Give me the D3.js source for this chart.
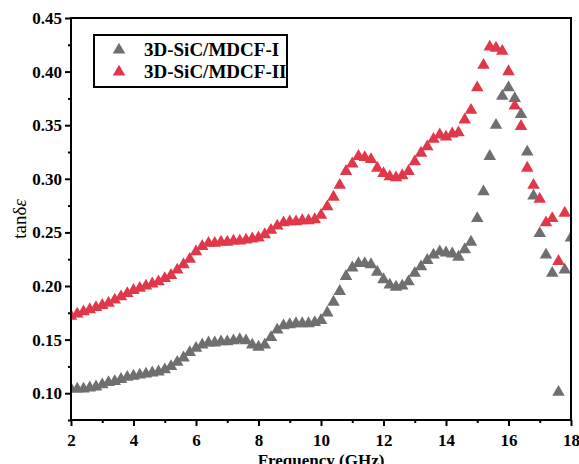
<!DOCTYPE html>
<html>
<head>
<meta charset="utf-8">
<script src="https://cdn.jsdelivr.net/npm/d3@7"></script>
<style>
  body { margin: 0; background: #fff; }
  svg { display: block; }
  text { font-family: "Liberation Serif", "Times New Roman", serif; }
</style>
</head>
<body>
<svg id="canvas" width="579" height="464"></svg>
<script>
// frequency points (GHz)
let freq = [2.0, 2.2, 2.4, 2.6, 2.8, 3.0, 3.2, 3.4, 3.6, 3.8,
  4.0, 4.2, 4.4, 4.6, 4.8, 5.0, 5.2, 5.4, 5.6, 5.8,
  6.0, 6.2, 6.4, 6.6, 6.8, 7.0, 7.2, 7.4, 7.6, 7.8,
  8.0, 8.2, 8.4, 8.6, 8.8, 9.0, 9.2, 9.4, 9.6, 9.8,
  10.0, 10.2, 10.4, 10.6, 10.8, 11.0, 11.2, 11.4, 11.6, 11.8,
  12.0, 12.2, 12.4, 12.6, 12.8, 13.0, 13.2, 13.4, 13.6, 13.8,
  14.0, 14.2, 14.4, 14.6, 14.8, 15.0, 15.2, 15.4, 15.6, 15.8,
  16.0, 16.2, 16.4, 16.6, 16.8, 17.0, 17.2, 17.4, 17.6, 17.8, 18.0]

// 3D-SiC/MDCF-I
let seriesI = [0.104, 0.104, 0.104, 0.105, 0.106, 0.108, 0.110, 0.111, 0.113, 0.115,
  0.116, 0.117, 0.118, 0.119, 0.120, 0.122, 0.125, 0.129, 0.133, 0.138,
  0.142, 0.145, 0.147, 0.147, 0.148, 0.148, 0.149, 0.150, 0.149, 0.145,
  0.143, 0.145, 0.152, 0.159, 0.163, 0.164, 0.165, 0.165, 0.165, 0.166,
  0.168, 0.175, 0.185, 0.195, 0.209, 0.217, 0.221, 0.221, 0.220, 0.213,
  0.206, 0.201, 0.199, 0.200, 0.204, 0.212, 0.218, 0.224, 0.229, 0.232,
  0.231, 0.230, 0.227, 0.234, 0.241, 0.263, 0.288, 0.321, 0.350, 0.377,
  0.385, 0.375, 0.360, 0.325, 0.284, 0.249, 0.229, 0.212, 0.101, 0.215, 0.245]

// 3D-SiC/MDCF-II (no point at 18 GHz)
let seriesII = [0.172, 0.174, 0.176, 0.178, 0.180, 0.182, 0.184, 0.187, 0.190, 0.193,
  0.196, 0.198, 0.200, 0.202, 0.204, 0.207, 0.210, 0.215, 0.220, 0.225,
  0.232, 0.237, 0.240, 0.240, 0.241, 0.241, 0.242, 0.242, 0.243, 0.244,
  0.245, 0.248, 0.252, 0.256, 0.259, 0.260, 0.260, 0.261, 0.261, 0.262,
  0.266, 0.274, 0.283, 0.294, 0.307, 0.314, 0.321, 0.320, 0.318, 0.310,
  0.305, 0.302, 0.301, 0.303, 0.307, 0.316, 0.324, 0.330, 0.337, 0.341,
  0.339, 0.342, 0.343, 0.355, 0.364, 0.385, 0.406, 0.423, 0.422, 0.419,
  0.400, 0.368, 0.349, 0.310, 0.294, 0.281, 0.259, 0.263, 0.223, 0.268]

let seriesNames = ['3D-SiC/MDCF-I', '3D-SiC/MDCF-II']
let seriesColors = ['#6f6f72', '#e0384a']

let xTicks = [2, 4, 6, 8, 10, 12, 14, 16, 18]
let yTicks = [0.10, 0.15, 0.20, 0.25, 0.30, 0.35, 0.40, 0.45]

let canvas = d3.select('#canvas')

let margin = { top: 18, right: 8, bottom: 44, left: 71 }
let width = 579 - margin.left - margin.right
let height = 464 - margin.top - margin.bottom

let x = d3.scaleLinear().domain([2, 18]).range([0, width])
let y = d3.scaleLinear().domain([0.075, 0.45]).range([height, 0])

let g = canvas.append('g')
  .attr('transform', 'translate(' + margin.left + ',' + margin.top + ')')

g.append('clipPath').attr('id', 'clip')
  .append('rect').attr('width', width).attr('height', height)

// data
let tri = d3.symbol().type(d3.symbolTriangle).size(68)
let plot = g.append('g').attr('clip-path', 'url(#clip)')
let allSeries = [seriesI, seriesII]
allSeries.forEach((vals, i) => {
  plot.append('g')
    .selectAll('path')
    .data(vals)
    .enter()
    .append('path')
    .attr('d', tri)
    .attr('fill', seriesColors[i])
    .attr('transform', (d, j) => 'translate(' + x(freq[j]) + ',' + y(d) + ')')
})

// axes
let xAxis = d3.axisBottom(x).tickValues(xTicks).tickFormat(d3.format('d')).tickSize(6).tickPadding(8)
let xMinor = d3.axisBottom(x).tickValues(d3.range(3, 18, 2)).tickFormat('').tickSize(3)
let yAxis = d3.axisLeft(y).tickValues(yTicks).tickFormat(d3.format('.2f')).tickSize(6).tickPadding(3)
let yMinor = d3.axisLeft(y).tickValues([0.075, 0.125, 0.175, 0.225, 0.275, 0.325, 0.375, 0.425]).tickFormat('').tickSize(3)

g.append('g').attr('transform', 'translate(0,' + height + ')').call(xAxis)
g.append('g').attr('transform', 'translate(0,' + height + ')').call(xMinor)
g.append('g').call(yAxis)
g.append('g').call(yMinor)

g.selectAll('.domain').remove()
g.selectAll('.tick line').attr('stroke', '#000').attr('stroke-width', 2)
g.selectAll('.tick text')
  .attr('fill', '#000')
  .style('font-size', '17px')
  .style('font-weight', 'bold')
  .style('font-family', '"Liberation Serif", serif')

// frame
g.append('rect')
  .attr('width', width)
  .attr('height', height)
  .attr('fill', 'none')
  .attr('stroke', '#000')
  .attr('stroke-width', 2)

// axis titles
canvas.append('text')
  .attr('x', margin.left + width / 2)
  .attr('y', 466)
  .attr('text-anchor', 'middle')
  .style('font-size', '17px')
  .style('font-weight', 'bold')
  .text('Frequency (GHz)')

let yl = canvas.append('text')
  .attr('transform', 'translate(26,' + (margin.top + height / 2) + ') rotate(-90)')
  .attr('text-anchor', 'middle')
  .style('font-size', '19px')
yl.append('tspan').text('tan\u03B4')
yl.append('tspan').style('font-style', 'italic').text('\u03B5')

// legend
let legend = canvas.append('g').attr('transform', 'translate(94,35)')
legend.append('rect')
  .attr('width', 193)
  .attr('height', 52)
  .attr('fill', '#fff')
  .attr('stroke', '#000')
  .attr('stroke-width', 2)
seriesNames.forEach((name, i) => {
  legend.append('path')
    .attr('d', tri)
    .attr('fill', seriesColors[i])
    .attr('transform', 'translate(25,' + (15 + i * 22) + ')')
  legend.append('text')
    .attr('x', 50)
    .attr('y', 21 + i * 22)
    .style('font-size', '19px')
    .style('font-weight', 'bold')
    .text(name)
})
</script>
</body>
</html>
